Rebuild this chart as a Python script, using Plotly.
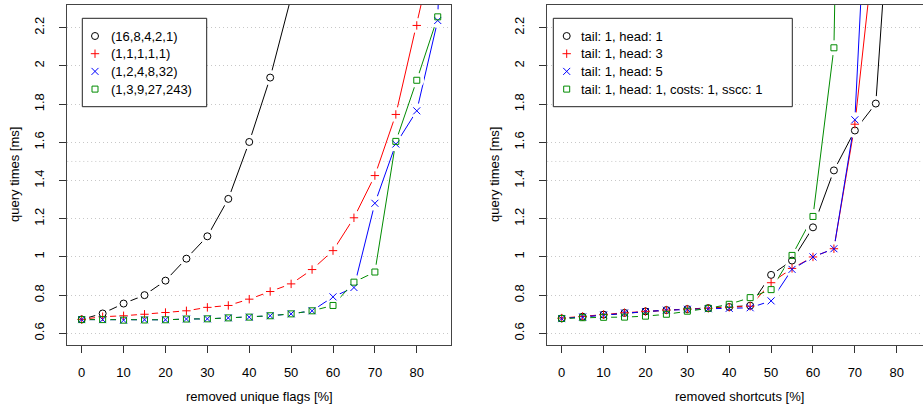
import plotly.graph_objects as go

# ---------------- data ----------------
removed_pct = [0, 5, 10, 15, 20, 25, 30, 35, 40, 45, 50, 55, 60, 65, 70, 75, 80, 85, 90]

# left panel: query times [ms] vs removed unique flags [%]
flags_labels = ["(16,8,4,2,1)", "(1,1,1,1,1)", "(1,2,4,8,32)", "(1,3,9,27,243)"]
flags_16_8_4_2_1 = [0.673, 0.704, 0.756, 0.800, 0.876, 0.991, 1.108, 1.304, 1.602, 1.939, 2.36]
flags_1_1_1_1_1 = [0.673, 0.687, 0.692, 0.700, 0.709, 0.718, 0.736, 0.746, 0.779, 0.819,
                   0.859, 0.934, 1.033, 1.205, 1.426, 1.746, 2.212, 2.70]
flags_1_2_4_8_32 = [0.672, 0.672, 0.669, 0.671, 0.671, 0.675, 0.676, 0.681, 0.685, 0.692,
                    0.702, 0.718, 0.791, 0.840, 1.281, 1.591, 1.765, 2.238, 6.0]
flags_1_3_9_27_243 = [0.672, 0.672, 0.669, 0.670, 0.671, 0.675, 0.676, 0.681, 0.685, 0.692,
                      0.702, 0.718, 0.746, 0.868, 0.921, 1.605, 1.925, 2.257]

# right panel: query times [ms] vs removed shortcuts [%]
shortcut_labels = ["tail: 1, head: 1", "tail: 1, head: 3", "tail: 1, head: 5",
                   "tail: 1, head: 1, costs: 1, sscc: 1"]
tail1_head1 = [0.678, 0.687, 0.698, 0.707, 0.715, 0.722, 0.727, 0.732, 0.738, 0.745,
               0.906, 0.981, 1.155, 1.453, 1.662, 1.803, 3.4]
tail1_head3 = [0.680, 0.688, 0.698, 0.708, 0.715, 0.722, 0.727, 0.731, 0.736, 0.742,
               0.865, 0.940, 1.000, 1.043, 1.695, 2.70]
tail1_head5 = [0.677, 0.686, 0.697, 0.707, 0.714, 0.721, 0.726, 0.729, 0.731, 0.734,
               0.770, 0.935, 1.000, 1.043, 1.718, 3.9]
tail1_head1_costs1_sscc1 = [0.678, 0.682, 0.684, 0.685, 0.690, 0.700, 0.716, 0.731, 0.752,
                            0.787, 0.829, 1.008, 1.212, 2.095, 8.0]

y_ticks = [0.6, 0.8, 1.0, 1.2, 1.4, 1.6, 1.8, 2.0, 2.2]
y_tick_text = ["0.6", "0.8", "1", "1.2", "1.4", "1.6", "1.8", "2", "2.2"]
x_ticks = [0, 10, 20, 30, 40, 50, 60, 70, 80]
extra_grid_y = 1.5

# ---------------- styles ----------------
colors = ["#000000", "#FF0000", "#0000FF", "#008B00"]
symbols = ["circle-open", "cross-thin-open", "x-thin-open", "square-open"]
msizes = [7, 6, 7, 6]
FONT = "Liberation Sans, Arial, Helvetica, sans-serif"
W, H = 923, 409

panels = [
    ("x", "y", [flags_16_8_4_2_1, flags_1_1_1_1_1, flags_1_2_4_8_32, flags_1_3_9_27_243]),
    ("x2", "y2", [tail1_head1, tail1_head3, tail1_head5, tail1_head1_costs1_sscc1]),
]

fig = go.Figure()

# lines
for xa, ya, series in panels:
    for i, ys in enumerate(series):
        fig.add_trace(go.Scatter(x=removed_pct[:len(ys)], y=ys, mode="lines",
                                 line=dict(color=colors[i], width=1),
                                 xaxis=xa, yaxis=ya, showlegend=False, hoverinfo="skip"))
# white gaps around points (R type="b")
for xa, ya, series in panels:
    for i, ys in enumerate(series):
        fig.add_trace(go.Scatter(x=removed_pct[:len(ys)], y=ys, mode="markers",
                                 marker=dict(symbol="circle", size=15, color="white",
                                             line=dict(width=0)),
                                 xaxis=xa, yaxis=ya, showlegend=False, hoverinfo="skip"))
# point symbols
for xa, ya, series in panels:
    for i, ys in enumerate(series):
        fig.add_trace(go.Scatter(x=removed_pct[:len(ys)], y=ys, mode="markers",
                                 marker=dict(symbol=symbols[i], size=msizes[i], color=colors[i],
                                             line=dict(width=1, color=colors[i])),
                                 xaxis=xa, yaxis=ya, showlegend=False))

# ---------------- layout geometry (pixels) ----------------
left_px = (67.3, 450.7)
right_px = (547.3, 923.0)
top_px, bottom_px = 5.0, 345.0
x_range_left = [-3.44, 88.1]
x_range_right = [-3.44, 86.27]
y_range = [0.539, 2.319]

def fx(p):
    return p / W

def fy(p):
    return 1 - p / H

axis_common = dict(showgrid=False, zeroline=False, showline=True, linecolor="#444444",
                   linewidth=1, ticks="outside", ticklen=7, tickcolor="#333333",
                   tickwidth=1, tickfont=dict(family=FONT, size=13, color="#000000"),
                   automargin=False, fixedrange=True)
yaxis_common = dict(axis_common, showgrid=True, gridcolor="#C8C8C8", gridwidth=1,
                    griddash="1px,3px", tickvals=y_ticks, ticktext=y_tick_text,
                    tickangle=-90, range=y_range, ticklabelstandoff=10)
xaxis_common = dict(axis_common, tickvals=x_ticks, ticktext=[str(v) for v in x_ticks],
                    ticklabelstandoff=8)

fig.update_layout(
    width=W, height=H, margin=dict(l=0, r=0, t=0, b=0),
    paper_bgcolor="white", plot_bgcolor="rgba(0,0,0,0)",
    showlegend=False,
    xaxis=dict(xaxis_common, domain=[fx(left_px[0]), fx(left_px[1])], range=x_range_left,
               anchor="y", mirror=True),
    yaxis=dict(yaxis_common, domain=[fy(bottom_px), fy(top_px)], anchor="x", mirror=True),
    xaxis2=dict(xaxis_common, domain=[fx(right_px[0]), 1.0], range=x_range_right,
                anchor="y2", mirror=True),
    yaxis2=dict(yaxis_common, domain=[fy(bottom_px), fy(top_px)], anchor="x2", mirror=False),
    xaxis3=dict(domain=[0, 1], range=[0, W], visible=False, anchor="y3", fixedrange=True),
    yaxis3=dict(domain=[0, 1], range=[H, 0], visible=False, anchor="x3", fixedrange=True),
)

# extra dotted grid line
for xr, yr in (("x domain", "y"), ("x2 domain", "y2")):
    fig.add_shape(type="line", xref=xr, yref=yr, x0=0, x1=1, y0=extra_grid_y, y1=extra_grid_y,
                  line=dict(color="#C8C8C8", width=1, dash="1px,3px"), layer="below")

# legends (drawn in a pixel-coordinate overlay)
legend_boxes = [(82.3, 18.3, 206.7, 106.7), (553.3, 18.3, 792.3, 106.7)]
legend_sym_x = [95.0, 566.7]
legend_txt_x = [109.3, 579.3]
legend_rows = [36.0, 53.7, 71.4, 89.1]
legend_labels = [flags_labels, shortcut_labels]

for k in range(2):
    x0, y0, x1, y1 = legend_boxes[k]
    fig.add_shape(type="rect", xref="x3", yref="y3", x0=x0, y0=y0, x1=x1, y1=y1,
                  line=dict(color="#222222", width=1), fillcolor="white", layer="below")
    for i in range(4):
        fig.add_trace(go.Scatter(x=[legend_sym_x[k]], y=[legend_rows[i]], mode="markers",
                                 marker=dict(symbol=symbols[i], size=msizes[i], color=colors[i],
                                             line=dict(width=1, color=colors[i])),
                                 xaxis="x3", yaxis="y3", showlegend=False, hoverinfo="skip"))
        fig.add_annotation(x=legend_txt_x[k], y=legend_rows[i], xref="x3", yref="y3",
                           text=legend_labels[k][i], showarrow=False, xanchor="left",
                           yanchor="middle", font=dict(family=FONT, size=13, color="#000000"))

# axis titles
titles = [
    ("removed unique flags [%]", 259.0, 396.0, 0),
    ("removed shortcuts [%]", 739.0, 396.0, 0),
    ("query times [ms]", 14.0, 175.0, -90),
    ("query times [ms]", 494.0, 175.0, -90),
]
for text, px, py, ang in titles:
    fig.add_annotation(x=px, y=py, xref="x3", yref="y3", text=text, showarrow=False,
                       textangle=ang, xanchor="center", yanchor="middle",
                       font=dict(family=FONT, size=13, color="#000000"))

fig.write_html("out.html", config={"displayModeBar": False, "staticPlot": True},
               post_script="document.body.style.margin='0';document.body.style.overflow='hidden';")
